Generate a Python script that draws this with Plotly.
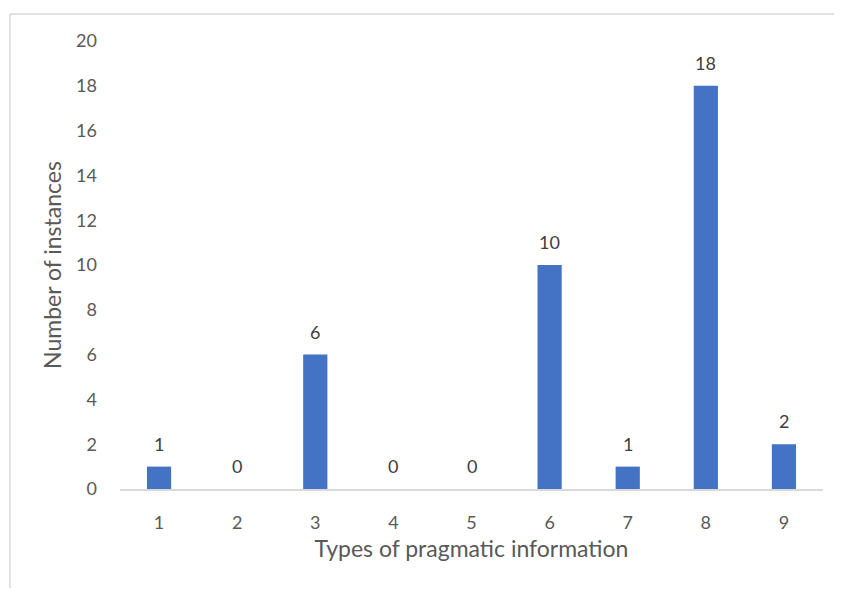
import plotly.graph_objects as go

categories = ["1", "2", "3", "4", "5", "6", "7", "8", "9"]
values = [1, 0, 6, 0, 0, 10, 1, 18, 2]
y_ticks = [0, 2, 4, 6, 8, 10, 12, 14, 16, 18, 20]

FONT = "Lato, Liberation Sans, Arial"
W, H = 842, 590
L, R, T, B = 112, 27, 33, 109
pw, ph = W - L - R, H - T - B

fig = go.Figure(go.Bar(
    x=categories, y=values,
    marker=dict(color="#4472C4", line=dict(width=0)),
    width=0.31,
    cliponaxis=False,
))

for i, v in enumerate(values):
    fig.add_annotation(
        x=i, y=v, text=str(v), showarrow=False,
        yanchor="middle", yshift=23,
        font=dict(family=FONT, size=18, color="#404040"),
    )

fig.update_layout(
    width=W, height=H,
    margin=dict(l=L, r=R, t=T, b=B, pad=0),
    paper_bgcolor="white", plot_bgcolor="white",
    showlegend=False,
    font=dict(family=FONT, color="#595959"),
    xaxis=dict(
        type="category", range=[-0.5, 8.5],
        showgrid=False, showline=True, linecolor="#d9d9d9", linewidth=1.5,
        ticks="", tickfont=dict(size=18, color="#595959"),
        ticklabelstandoff=17,
        title=dict(text="Types of pragmatic information", font=dict(size=23, color="#595959"), standoff=9),
        fixedrange=True,
    ),
    yaxis=dict(
        range=[0, 20], tickvals=y_ticks,
        showgrid=False, zeroline=False, showline=False,
        ticks="", tickfont=dict(size=18, color="#595959"),
        ticklabelstandoff=22,
        title=dict(text="Number of instances", font=dict(size=23, color="#595959"), standoff=8),
        fixedrange=True,
    ),
    shapes=[
        dict(type="line", xref="paper", yref="paper",
             x0=(2 - L) / pw, x1=(W - L) / pw, y0=(H - B - 6) / ph, y1=(H - B - 6) / ph,
             line=dict(color="#d9d9d9", width=1.5)),
        dict(type="line", xref="paper", yref="paper",
             x0=(2 - L) / pw, x1=(2 - L) / pw, y0=(H - B - 6) / ph, y1=(H - B - 580) / ph,
             line=dict(color="#d9d9d9", width=1.5)),
    ],
)

fig.write_html("out.html")
